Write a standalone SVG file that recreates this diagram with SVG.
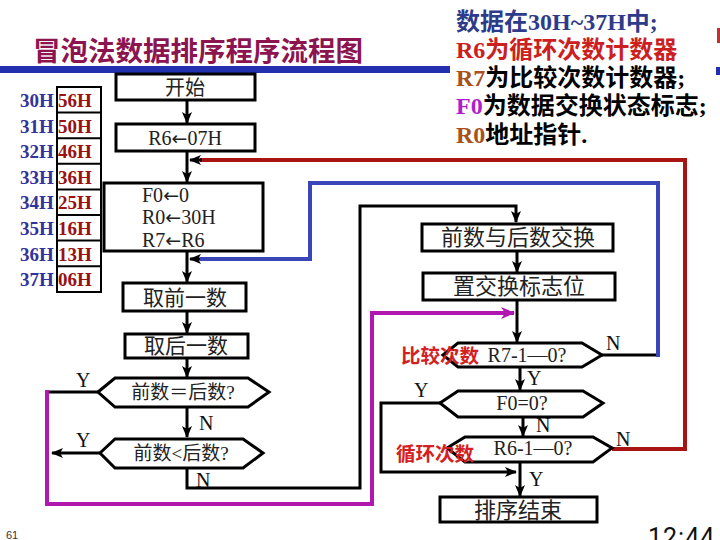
<svg xmlns="http://www.w3.org/2000/svg" width="720" height="540" viewBox="0 0 720 540">
<defs>
<marker id="ah" viewBox="0 0 12 10" refX="11" refY="5" markerWidth="12" markerHeight="10" markerUnits="userSpaceOnUse" orient="auto">
<path d="M0,0 L12,5 L0,10 L3,5 z" fill="#000"/>
</marker>
<marker id="ahm" viewBox="0 0 14 12" refX="13" refY="6" markerWidth="14" markerHeight="12" markerUnits="userSpaceOnUse" orient="auto">
<path d="M0,0 L14,6 L0,12 L4,6 z" fill="#b018b0"/>
</marker>
<style>
.box{fill:#fff;stroke:#000;stroke-width:3}
.t{font-family:'Liberation Serif','Noto Sans CJK SC',serif;font-size:20px;fill:#222}
.c{text-anchor:middle}
.arr{font-family:'DejaVu Sans',sans-serif;font-size:19px}
.yn{font-family:'Liberation Serif',serif;font-size:20px;fill:#111}
.ln{fill:none;stroke:#000;stroke-width:3}
.blue{fill:none;stroke:#3a46b8;stroke-width:4}
.red{fill:none;stroke:#a81414;stroke-width:4}
.mag{fill:none;stroke:#b018b0;stroke-width:4}
.mem{font-family:'Liberation Serif',serif;font-size:19px;font-weight:bold}
.addr{fill:#333399}
.val{fill:#991111}
.info{font-family:'Liberation Serif','Noto Sans CJK SC',sans-serif;font-size:24px;font-weight:bold}
.redlbl{font-family:'Noto Sans CJK SC',sans-serif;font-size:19.5px;font-weight:bold;fill:#d42020}
</style>
</defs>
<rect width="720" height="540" fill="#fff"/>

<!-- title -->
<g id="title">
<text x="33" y="61" style="font-family:'Noto Sans CJK SC',sans-serif;font-size:27.5px;font-weight:bold;fill:#8c1550">冒泡法数据排序程序流程图</text>
<rect x="0" y="66" width="450" height="7" fill="#2230b0"/>
<rect x="716" y="67" width="4" height="8" fill="#2230b0"/>
<rect x="717" y="28" width="3" height="15" fill="#c03030"/>
</g>

<!-- info text -->
<g id="info" class="info">
<text x="456" y="30" fill="#2e3a8a">数据在30H~37H中;</text>
<text x="456" y="58" fill="#cc2020">R6为循环次数计数器</text>
<text x="456" y="86"><tspan fill="#a85020">R7</tspan><tspan fill="#000">为比较次数计数器;</tspan></text>
<text x="456" y="114"><tspan fill="#b020c8">F0</tspan><tspan fill="#000">为数据交换状态标志;</tspan></text>
<text x="456" y="143"><tspan fill="#a85020">R0</tspan><tspan fill="#000">地址指针.</tspan></text>
</g>

<!-- memory table -->
<g id="memory">
<rect x="57" y="87" width="44" height="205" fill="#fff" stroke="#000" stroke-width="2"/>
<path d="M57,112.6H101M57,138.2H101M57,163.8H101M57,189.4H101M57,215H101M57,240.6H101M57,266.2H101" stroke="#000" stroke-width="2"/>
<g class="mem addr">
<text x="20" y="107">30H</text><text x="20" y="132.6">31H</text><text x="20" y="158.2">32H</text><text x="20" y="183.8">33H</text>
<text x="20" y="209.4">34H</text><text x="20" y="235">35H</text><text x="20" y="260.6">36H</text><text x="20" y="286.2">37H</text>
</g>
<g class="mem val">
<text x="58" y="107">56H</text><text x="58" y="132.6">50H</text><text x="58" y="158.2">46H</text><text x="58" y="183.8">36H</text>
<text x="58" y="209.4">25H</text><text x="58" y="235">16H</text><text x="58" y="260.6">13H</text><text x="58" y="286.2">06H</text>
</g>
</g>

<!-- connectors -->
<g id="connectors">
<path class="ln" d="M187,100V123" marker-end="url(#ah)"/>
<path class="ln" d="M187,151V182" marker-end="url(#ah)"/>
<path class="ln" d="M187,251V282" marker-end="url(#ah)"/>
<path class="ln" d="M187,311V333" marker-end="url(#ah)"/>
<path class="ln" d="M187,358V377" marker-end="url(#ah)"/>
<path class="ln" d="M187,407V437" marker-end="url(#ah)"/>
<path class="ln" d="M100,453H52" marker-end="url(#ah)"/>
<path class="ln" d="M187,468V488H360V206H516V222" marker-end="url(#ah)"/>
<path class="ln" d="M98,392H47"/>
<path class="mag" d="M47,390V504H372V313H514" marker-end="url(#ahm)"/>
<path class="ln" d="M517,251V272" marker-end="url(#ah)"/>
<path class="ln" d="M517,300V342" marker-end="url(#ah)"/>
<path class="ln" d="M602,355H658"/>
<path class="blue" d="M658,357V183H310V259H200"/>
<path class="ln" d="M200,259H190" marker-end="url(#ah)"/>
<path class="ln" d="M520,367V390" marker-end="url(#ah)"/>
<path class="ln" d="M523,417V436" marker-end="url(#ah)"/>
<path class="ln" d="M440,403H381V472H516" marker-end="url(#ah)"/>
<path class="red" d="M612,449H685V160H200"/>
<path class="ln" d="M202,160H190" marker-end="url(#ah)"/>
<path class="ln" d="M520,462V496" marker-end="url(#ah)"/>
</g>

<!-- nodes -->
<g id="start"><rect class="box" x="116" y="74" width="139" height="26"/><text class="t c" x="185" y="95">开始</text></g>
<g id="initR6"><rect class="box" x="116" y="124" width="139" height="27"/><text class="t c" x="185" y="145">R6<tspan class="arr">←</tspan>07H</text></g>
<g id="init"><rect class="box" x="104" y="183" width="159" height="68"/>
<text class="t" x="142" y="202">F0<tspan class="arr">←</tspan>0</text><text class="t" x="142" y="224">R0<tspan class="arr">←</tspan>30H</text><text class="t" x="142" y="247">R7<tspan class="arr">←</tspan>R6</text></g>
<g id="getFirst"><rect class="box" x="123" y="283" width="123" height="28"/><text class="t c" x="185" y="305" style="font-size:21px">取前一数</text></g>
<g id="getNext"><rect class="box" x="125" y="334" width="123" height="24"/><text class="t c" x="186" y="353" style="font-size:21px">取后一数</text></g>
<g id="eq"><polygon class="box" points="98,392 115,378 248,378 269,392 248,407 115,407"/><text class="t c" x="183" y="399" style="font-size:19px">前数＝后数?</text></g>
<g id="lt"><polygon class="box" points="100,453 115,439 243,439 263,453 243,468 115,468"/><text class="t c" x="181" y="460" style="font-size:19px">前数&lt;后数?</text></g>
<g id="swap"><rect class="box" x="422" y="224" width="191" height="27"/><text class="t c" x="518" y="245" style="font-size:22px">前数与后数交换</text></g>
<g id="setFlag"><rect class="box" x="423" y="273" width="192" height="27"/><text class="t c" x="519" y="294" style="font-size:22px">置交换标志位</text></g>
<g id="r7"><polygon class="box" points="443,355 458,343 582,343 602,355 582,367 458,367"/><text class="t c" x="527" y="362">R7-1—0?</text></g>
<g id="f0"><polygon class="box" points="440,403 458,391 583,391 603,403 583,417 458,417"/><text class="t c" x="522" y="410">F0=0?</text></g>
<g id="r6"><polygon class="box" points="447,448 465,437 593,437 612,448 593,462 465,462"/><text class="t c" x="533" y="455">R6-1—0?</text></g>
<g id="end"><rect class="box" x="440" y="497" width="157" height="25"/><text class="t c" x="518" y="518" style="font-size:22px">排序结束</text></g>

<!-- labels -->
<g id="labels">
<text class="redlbl" x="401" y="363">比较次数</text>
<text class="redlbl" x="396" y="461">循环次数</text>
<g class="yn">
<text x="76" y="387">Y</text><text x="199" y="430">N</text>
<text x="76" y="447">Y</text><text x="196" y="487">N</text>
<text x="606" y="350">N</text><text x="527" y="385">Y</text>
<text x="414" y="397">Y</text><text x="536" y="432">N</text>
<text x="616" y="446">N</text><text x="529" y="486">Y</text>
</g>
<text x="6" y="539" style="font-family:'Liberation Sans',sans-serif;font-size:11px;fill:#333">61</text>
<text x="648" y="546" style="font-family:Roboto,sans-serif;font-size:25px;letter-spacing:1px;fill:#111">12:44</text>
</g>
</svg>
